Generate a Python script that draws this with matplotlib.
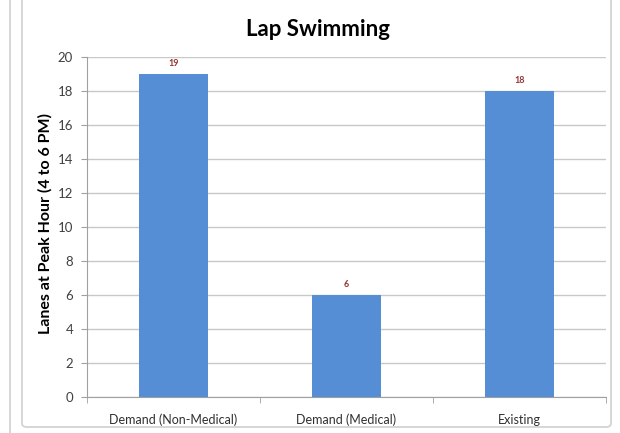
import matplotlib.pyplot as plt
from matplotlib.patches import FancyBboxPatch
from matplotlib.lines import Line2D

categories = ["Demand (Non-Medical)", "Demand (Medical)", "Existing"]
lanes = [19, 6, 18]
y_ticks = list(range(0, 21, 2))

plt.rcParams['font.family'] = ['Lato', 'DejaVu Sans']

fig = plt.figure(figsize=(6.2, 4.33), dpi=100)
W, H = 620, 433

# chart frame plus the edge of the neighbouring chart on the left
fig.add_artist(FancyBboxPatch((22 / W, 6 / H), 589 / W, 470 / H,
                              boxstyle="round,pad=0,rounding_size=0.008",
                              transform=fig.transFigure, fill=False,
                              edgecolor="#d0d0d0", linewidth=1.2))
fig.add_artist(Line2D([10 / W, 10 / W], [0, 1], transform=fig.transFigure,
                      color="#d0d0d0", linewidth=1.2))

ax = fig.add_axes([87 / W, 1 - 397 / H, 519 / W, 340 / H])
x = range(len(categories))
bars = ax.bar(x, lanes, width=0.4, color="#558ED5", zorder=3)

for xi, v in zip(x, lanes):
    ax.text(xi, v + 0.35, str(v), ha="center", va="bottom",
            fontsize=6.5, fontweight="bold", color="#943634")

ax.set_xlim(-0.5, len(categories) - 0.5)
ax.set_ylim(0, 20)
ax.set_yticks(y_ticks)
ax.yaxis.grid(True, color="#c8c8c8", linewidth=1, zorder=0)
ax.tick_params(axis="y", length=4, color="#a0a0a0", labelsize=9.5,
               labelcolor="#404040", pad=6)
ax.set_xticks(x)
ax.set_xticklabels(categories)
ax.tick_params(axis="x", length=0, labelsize=9, labelcolor="#303030", pad=12)
# boundary ticks between categories
ax.set_xticks([-0.5, 0.5, 1.5, 2.5], minor=True)
ax.tick_params(axis="x", which="minor", length=4, color="#a0a0a0")

for side in ["top", "right"]:
    ax.spines[side].set_visible(False)
ax.spines["left"].set_color("#a0a0a0")
ax.spines["bottom"].set_color("#a0a0a0")

fig.text(45 / W, 1 - 224 / H, "Lanes at Peak Hour (4 to 6 PM)", rotation=90,
         ha="center", va="center", fontsize=11.5, fontweight="bold")
fig.text(318 / W, 1 - 30 / H, "Lap Swimming", ha="center", va="center",
         fontsize=16, fontweight="bold")

fig.savefig("out.png", dpi=100)
